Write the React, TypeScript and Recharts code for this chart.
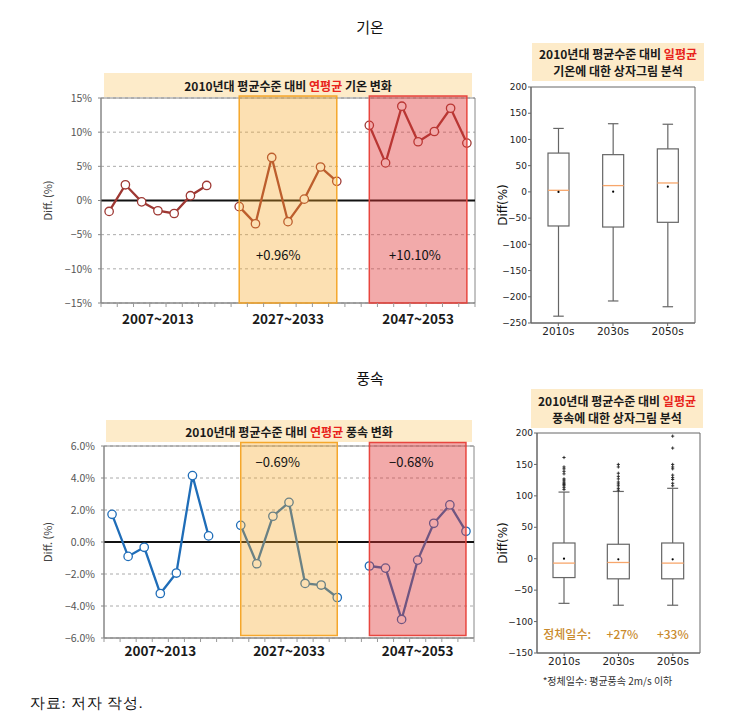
import React from 'react';
import {
  LineChart,
  Line,
  XAxis,
  YAxis,
  CartesianGrid,
  ReferenceArea,
  ReferenceLine,
  ReferenceDot,
  ComposedChart,
  Bar,
} from 'recharts';

const KR = '"Noto Sans CJK KR", "Noto Sans", sans-serif';
const MPL = '"DejaVu Sans", sans-serif';

// three 7-year periods, one empty slot between them
const periods = ['2007~2013', '2027~2033', '2047~2053'];
const tempPast = [-1.6, 2.3, -0.2, -1.5, -1.9, 0.7, 2.2];
const tempMid = [-0.9, -3.4, 6.3, -3.1, 0.2, 4.9, 2.8];
const tempFar = [11.0, 5.5, 13.8, 8.6, 10.1, 13.5, 8.4];
const tempChange = ['+0.96%', '+10.10%'];

const windPast = [1.73, -0.9, -0.33, -3.22, -1.94, 4.15, 0.38];
const windMid = [1.04, -1.36, 1.61, 2.48, -2.59, -2.69, -3.47];
const windFar = [-1.5, -1.63, -4.84, -1.13, 1.17, 2.32, 0.67];
const windChange = ['\u22120.69%', '\u22120.68%'];

// box plots (daily values vs 2010s mean)
const decades = ['2010s', '2030s', '2050s'];
const tempLow = [-237, -208, -219];
const tempQ1 = [-65, -67, -58];
const tempMedian = [3, 12, 17];
const tempMean = [0, 0.5, 10];
const tempQ3 = [74, 71, 82];
const tempHigh = [121, 130, 129];

const windLow = [-71, -74, -74];
const windQ1 = [-30, -32, -32];
const windMedian = [-7, -6, -7];
const windMean = [0, -1, -1];
const windQ3 = [25, 23, 25];
const windHigh = [106, 107, 112];
const windOutliers = [
  [161, 146, 143, 139, 135, 127, 125, 122, 120, 118, 116, 113, 110],
  [150, 146, 136, 131, 127, 122, 119, 116, 112, 109],
  [195, 176, 150, 146, 143, 133, 129, 126, 120, 116],
];
const stagnantDays = ['정체일수:', '+27%', '+33%'];

const minus = (s: string) => s.replace('-', '\u2212');

function slotRows(groups: number[][]) {
  const rows: { slot: number; value: number | null }[] = [];
  for (let s = 0; s < groups.length * 8 - 1; s++) {
    const g = Math.floor(s / 8);
    const i = s % 8;
    rows.push({ slot: s, value: i < 7 ? groups[g][i] : null });
  }
  return rows;
}

const boundaryTicks = Array.from({ length: 24 }, (_, i) => i - 0.5);
const periodCenters = periods.map((_, g) => g * 8 + 3);

function yLabel(x: number, text: string, size: number, fill: string, family: string) {
  return (p: any) => {
    const vb = p.viewBox || {};
    const cy = (vb.y ?? 0) + (vb.height ?? 0) / 2;
    return (
      <text
        x={x}
        y={cy}
        transform={`rotate(-90 ${x} ${cy})`}
        textAnchor="middle"
        dominantBaseline="central"
        fontSize={size}
        fill={fill}
        fontFamily={family}
      >
        {text}
      </text>
    );
  };
}

interface LinePanelProps {
  groups: number[][];
  color: string;
  yMin: number;
  yMax: number;
  ticks: number[];
  fmt: (v: number) => string;
  width: number;
  height: number;
  margin: { top: number; right: number; bottom: number; left: number };
  yAxisWidth: number;
  areaTop: number;
  areaBottom: number;
  labelGap: number;
  changes: string[];
  changePos: { x: number; y: number }[];
}

function LinePanel(p: LinePanelProps) {
  const data = slotRows(p.groups);
  const SlotTick = (t: any) => {
    const v = t.payload.value;
    if (Number.isInteger(v)) {
      const idx = periodCenters.indexOf(v);
      return (
        <text
          x={t.x}
          y={t.y + p.labelGap}
          textAnchor="middle"
          dominantBaseline="central"
          fontSize={13.5}
          fontWeight={700}
          fill="#1a1a1a"
          fontFamily={KR}
        >
          {periods[idx]}
        </text>
      );
    }
    return <line x1={t.x} x2={t.x} y1={t.y} y2={t.y + 4} stroke="#999" />;
  };
  return (
    <LineChart width={p.width} height={p.height} data={data} margin={p.margin}>
      <CartesianGrid vertical={false} stroke="#aaa" strokeDasharray="3 3" />
      <ReferenceArea x1={-0.5} x2={22.5} y1={p.yMin} y2={p.yMax} fill="none" stroke="#888" />
      <XAxis
        dataKey="slot"
        type="number"
        domain={[-0.5, 22.5]}
        ticks={[...boundaryTicks, ...periodCenters]}
        interval={0}
        tick={SlotTick}
        tickLine={false}
        tickSize={0}
        tickMargin={0}
        height={30}
        axisLine={{ stroke: '#888' }}
      />
      <YAxis
        type="number"
        domain={[p.yMin, p.yMax]}
        ticks={p.ticks}
        interval={0}
        tickFormatter={p.fmt}
        width={p.yAxisWidth}
        tickSize={3}
        tickMargin={6}
        tick={{ fontSize: 10.5, fill: '#555', fontFamily: KR }}
        tickLine={{ stroke: '#888' }}
        axisLine={{ stroke: '#888' }}
        label={{ content: yLabel(17, 'Diff. (%)', 11, '#444', KR) }}
      />
      <ReferenceLine y={0} stroke="#111" strokeWidth={2} />
      <Line
        dataKey="value"
        stroke={p.color}
        strokeWidth={2.3}
        connectNulls={false}
        dot={{ r: 4.2, fill: '#fff', stroke: p.color, strokeWidth: 1.3 }}
        isAnimationActive={false}
      />
      <ReferenceArea
        x1={8}
        x2={14}
        y1={p.areaBottom}
        y2={p.areaTop}
        ifOverflow="visible"
        fill="#F5A623"
        fillOpacity={0.35}
        stroke="#F5A72C"
        strokeWidth={1.5}
        zIndex={600}
      />
      <ReferenceArea
        x1={16}
        x2={22}
        y1={p.areaBottom}
        y2={p.areaTop}
        ifOverflow="visible"
        fill="#E03535"
        fillOpacity={0.42}
        stroke="#E8463F"
        strokeWidth={1.5}
        zIndex={600}
      />
      {p.changes.map((c, i) => (
        <ReferenceDot
          key={c + i}
          x={p.changePos[i].x}
          y={p.changePos[i].y}
          r={0}
          ifOverflow="visible"
          zIndex={700}
          label={{ value: c, position: 'center', fontSize: 13, fill: '#111', fontFamily: KR }}
        />
      ))}
    </LineChart>
  );
}

function boxRows(lo: number[], q1: number[], med: number[], mean: number[], q3: number[], hi: number[], out?: number[][]) {
  return decades.map((d, i) => ({
    name: d,
    range: [lo[i], hi[i]],
    q1: q1[i],
    median: med[i],
    mean: mean[i],
    q3: q3[i],
    outliers: out ? out[i] : [],
  }));
}

const BoxShape = (props: any) => {
  const { x, y, width, height, payload } = props;
  if (!payload) return null;
  const [lo, hi] = payload.range;
  const py = (v: number) => y + ((hi - v) / (hi - lo)) * height;
  const cx = x + width / 2;
  const cap = width / 4;
  const st = '#666';
  return (
    <g>
      <line x1={cx} x2={cx} y1={py(hi)} y2={py(payload.q3)} stroke={st} strokeWidth={1.2} />
      <line x1={cx} x2={cx} y1={py(payload.q1)} y2={py(lo)} stroke={st} strokeWidth={1.2} />
      <line x1={cx - cap} x2={cx + cap} y1={py(hi)} y2={py(hi)} stroke={st} strokeWidth={1.2} />
      <line x1={cx - cap} x2={cx + cap} y1={py(lo)} y2={py(lo)} stroke={st} strokeWidth={1.2} />
      <rect
        x={x}
        y={py(payload.q3)}
        width={width}
        height={py(payload.q1) - py(payload.q3)}
        fill="#fff"
        stroke={st}
        strokeWidth={1.2}
      />
      <line x1={x} x2={x + width} y1={py(payload.median)} y2={py(payload.median)} stroke="#F7A66B" strokeWidth={1.3} />
      <circle cx={cx} cy={py(payload.mean)} r={1.1} fill="#000" />
      {payload.outliers.map((o: number, i: number) => (
        <g key={i}>
          <line x1={cx - 1.6} x2={cx + 1.6} y1={py(o)} y2={py(o)} stroke="#222" strokeWidth={0.9} />
          <line x1={cx} x2={cx} y1={py(o) - 1.6} y2={py(o) + 1.6} stroke="#222" strokeWidth={0.9} />
        </g>
      ))}
    </g>
  );
};

interface BoxPanelProps {
  data: ReturnType<typeof boxRows>;
  yMin: number;
  yMax: number;
  width: number;
  height: number;
  margin: { top: number; right: number; bottom: number; left: number };
  yAxisWidth: number;
  barSize: number;
  labelX: number;
  notes?: string[];
}

function BoxPanel(p: BoxPanelProps) {
  const ticks: number[] = [];
  for (let v = p.yMin; v <= p.yMax; v += 50) ticks.push(v);
  return (
    <ComposedChart width={p.width} height={p.height} data={p.data} margin={p.margin}>
      <ReferenceArea y1={p.yMin} y2={p.yMax} fill="none" stroke="#666" />
      <XAxis
        dataKey="name"
        height={22}
        tickSize={3}
        tickMargin={2}
        tick={{ fontSize: 10.5, fill: '#222', fontFamily: MPL }}
        tickLine={{ stroke: '#666' }}
        axisLine={{ stroke: '#666' }}
      />
      <YAxis
        type="number"
        domain={[p.yMin, p.yMax]}
        ticks={ticks}
        interval={0}
        tickFormatter={(v: number) => minus(String(v))}
        width={p.yAxisWidth}
        tickSize={3}
        tickMargin={1}
        tick={{ fontSize: 9, fill: '#222', fontFamily: MPL }}
        tickLine={{ stroke: '#666' }}
        axisLine={{ stroke: '#666' }}
        label={{ content: yLabel(p.labelX, 'Diff(%)', 12, '#111', MPL) }}
      />
      <Bar dataKey="range" barSize={p.barSize} shape={(s: any) => <BoxShape {...s} />} isAnimationActive={false} />
      {p.notes &&
        p.notes.map((n, i) => (
          <ReferenceDot
            key={n}
            x={decades[i]}
            y={-121}
            r={0}
            ifOverflow="visible"
            label={{ value: n, position: 'center', fontSize: 12, fontWeight: 500, fill: '#C98A2C', fontFamily: KR, dx: i === 0 ? 3 : i === 1 ? 4 : 0 }}
          />
        ))}
    </ComposedChart>
  );
}

const banner: React.CSSProperties = {
  position: 'absolute',
  background: '#FDEBC9',
  fontFamily: KR,
  fontWeight: 700,
  fontSize: 12,
  color: '#1a1a1a',
  textAlign: 'center',
  display: 'flex',
  flexDirection: 'column',
  justifyContent: 'center',
  lineHeight: '17px',
};
const red = { color: '#E8231B' };
const abs = (left: number, top: number): React.CSSProperties => ({ position: 'absolute', left, top });

export default function App() {
  const pct = (v: number) => minus(`${v}%`);
  const pct1 = (v: number) => minus(`${v.toFixed(1)}%`);
  return (
    <div style={{ position: 'absolute', left: 0, top: 0, width: 731, height: 728, background: '#fff', fontFamily: KR }}>
      <div style={{ ...abs(320, 17), width: 100, textAlign: 'center', fontSize: 15, lineHeight: '20px', color: '#111' }}>기온</div>
      <div style={{ ...abs(320, 368), width: 100, textAlign: 'center', fontSize: 15, lineHeight: '20px', color: '#111' }}>풍속</div>

      <div style={{ ...banner, left: 104, top: 73, width: 368, height: 24 }}>
        <div>
          2010년대 평균수준 대비 <span style={red}>연평균</span> 기온 변화
        </div>
      </div>
      <div style={abs(30, 90)}>
        <LinePanel
          groups={[tempPast, tempMid, tempFar]}
          color="#9E3833"
          yMin={-15}
          yMax={15}
          ticks={[-15, -10, -5, 0, 5, 10, 15]}
          fmt={pct}
          width={460}
          height={250}
          margin={{ top: 8, right: 15, bottom: 7, left: 0 }}
          yAxisWidth={71}
          areaTop={15.3}
          areaBottom={-15}
          labelGap={15}
          changes={tempChange}
          changePos={[
            { x: 10.4, y: -8 },
            { x: 18.8, y: -8 },
          ]}
        />
      </div>

      <div style={{ ...banner, left: 532, top: 43, width: 172, height: 38 }}>
        <div>
          2010년대 평균수준 대비 <span style={red}>일평균</span>
        </div>
        <div>기온에 대한 상자그림 분석</div>
      </div>
      <div style={abs(480, 80)}>
        <BoxPanel
          data={boxRows(tempLow, tempQ1, tempMedian, tempMean, tempQ3, tempHigh)}
          yMin={-250}
          yMax={200}
          width={230}
          height={270}
          margin={{ top: 7, right: 15, bottom: 5, left: 0 }}
          yAxisWidth={51}
          barSize={21}
          labelX={23}
        />
      </div>

      <div style={{ ...banner, left: 106, top: 420, width: 366, height: 22 }}>
        <div>
          2010년대 평균수준 대비 <span style={red}>연평균</span> 풍속 변화
        </div>
      </div>
      <div style={abs(30, 436)}>
        <LinePanel
          groups={[windPast, windMid, windFar]}
          color="#1F6DB8"
          yMin={-6}
          yMax={6}
          ticks={[-6, -4, -2, 0, 2, 4, 6]}
          fmt={pct1}
          width={460}
          height={240}
          margin={{ top: 10, right: 16, bottom: 8, left: 0 }}
          yAxisWidth={74}
          areaTop={6.22}
          areaBottom={-5.84}
          labelGap={12}
          changes={windChange}
          changePos={[
            { x: 10.3, y: 5 },
            { x: 18.6, y: 5 },
          ]}
        />
      </div>

      <div style={{ ...banner, left: 531, top: 389, width: 172, height: 39 }}>
        <div>
          2010년대 평균수준 대비 <span style={red}>일평균</span>
        </div>
        <div>풍속에 대한 상자그림 분석</div>
      </div>
      <div style={abs(480, 425)}>
        <BoxPanel
          data={boxRows(windLow, windQ1, windMedian, windMean, windQ3, windHigh, windOutliers)}
          yMin={-150}
          yMax={200}
          width={235}
          height={260}
          margin={{ top: 8, right: 15, bottom: 10, left: 0 }}
          yAxisWidth={57}
          barSize={22}
          labelX={23}
          notes={stagnantDays}
        />
      </div>
      <div style={{ ...abs(530, 674), width: 155, textAlign: 'center', fontSize: 10, lineHeight: '14px', color: '#333' }}>
        *정체일수: 평균풍속 2m/s 이하
      </div>

      <div style={{ ...abs(30, 693), fontFamily: 'serif', fontSize: 15, letterSpacing: 0.8, lineHeight: '20px', color: '#111' }}>
        자료: 저자 작성.
      </div>
    </div>
  );
}
